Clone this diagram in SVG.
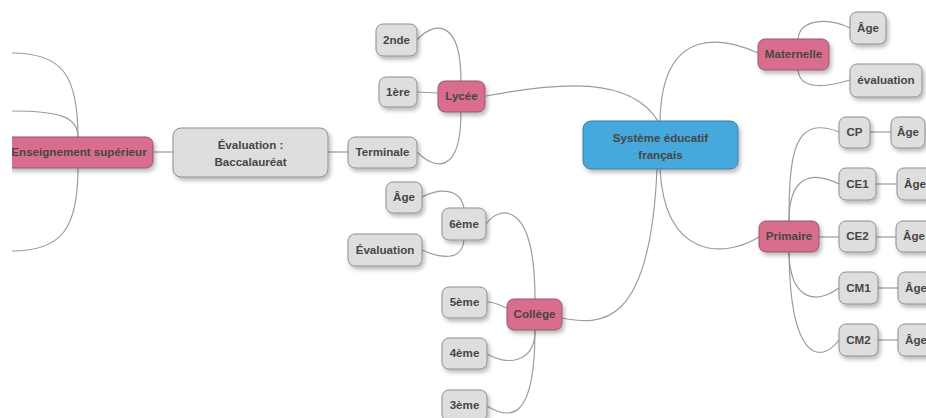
<svg xmlns="http://www.w3.org/2000/svg" width="926" height="418" viewBox="0 0 926 418">
<defs>
<clipPath id="clip"><rect x="12" y="0" width="914" height="418"/></clipPath>
<filter id="sh" x="-20%" y="-30%" width="150%" height="180%">
<feDropShadow dx="2" dy="3" stdDeviation="2.2" flood-color="#000" flood-opacity="0.28"/>
</filter>
</defs>
<style>
.c{fill:none;stroke:#9c9c9c;stroke-width:1.2}
.g rect{fill:#dedede;stroke:#8e8e8e;stroke-width:1}
.p rect{fill:#d96d8d;stroke:#8f5a6c;stroke-width:1}
.b rect{fill:#46a8db;stroke:#3b7fa8;stroke-width:1}
rect{filter:url(#sh)}
text{font-family:"Liberation Sans",Arial,Helvetica,sans-serif;font-size:11.6px;font-weight:bold;fill:#464646;text-anchor:middle}
</style>
<rect x="0" y="0" width="926" height="418" fill="#ffffff" style="filter:none"/>
<g clip-path="url(#clip)">
<g id="connectors">
<path class="c" d="M153 152 L173 152"/>
<path class="c" d="M328 152 L348 152"/>
<path class="c" d="M78 137 C78 75 62 53 12 53"/>
<path class="c" d="M78 137 C78 118 62 111 12 111"/>
<path class="c" d="M78 168 C78 228 62 251 12 251"/>
<path class="c" d="M417 40 C435 20 461 20 461 81"/>
<path class="c" d="M417 92 L438 93"/>
<path class="c" d="M461 112 C461 175 435 170 417 152"/>
<path class="c" d="M486 96 C560 82 630 76 658 121"/>
<path class="c" d="M660 121 C662 20 730 40 758 53"/>
<path class="c" d="M798 39 C800 18 830 18 850 28"/>
<path class="c" d="M798 70 C800 92 830 86 850 80"/>
<path class="c" d="M660 169 C665 260 725 258 759 237"/>
<path class="c" d="M657 169 C650 330 600 325 562 318"/>
<path class="c" d="M535 299 C535 200 500 205 486 224"/>
<path class="c" d="M487 302 C497 302 500 306 507 308"/>
<path class="c" d="M535 330 C535 365 505 365 487 354"/>
<path class="c" d="M535 330 C535 422 510 420 487 406"/>
<path class="c" d="M464 208 C460 188 440 188 422 197"/>
<path class="c" d="M464 240 C462 262 440 258 422 250"/>
<path class="c" d="M789 221 C789 150 795 115 839 132"/>
<path class="c" d="M789 221 C789 190 800 165 839 184"/>
<path class="c" d="M819 237 L839 237"/>
<path class="c" d="M789 252 C790 300 815 305 839 288"/>
<path class="c" d="M789 252 C790 360 820 365 839 340"/>
<path class="c" d="M870 132 L891 132"/>
<path class="c" d="M876 184 L897 184"/>
<path class="c" d="M876 237 L896 237"/>
<path class="c" d="M878 288 L898 288"/>
<path class="c" d="M878 340 L898 340"/>
</g>
<g id="n-central" class="b"><rect x="583" y="121" width="155" height="48" rx="8"/><text x="660.5" y="142">Système éducatif</text><text x="660.5" y="159">français</text></g>
<g id="n-sup" class="p"><rect x="4" y="137" width="149" height="31" rx="7"/><text x="79" y="156">Enseignement supérieur</text></g>
<g id="n-bac" class="g"><rect x="173" y="128" width="155" height="49" rx="8"/><text x="250.5" y="149">Évaluation :</text><text x="250.5" y="166">Baccalauréat</text></g>
<g id="n-lycee" class="p"><rect x="438" y="81" width="47" height="31" rx="7"/><text x="461.5" y="100">Lycée</text></g>
<g id="n-2nde" class="g"><rect x="376" y="24" width="41" height="32" rx="7"/><text x="396.5" y="44">2nde</text></g>
<g id="n-1ere" class="g"><rect x="379" y="77" width="38" height="30" rx="7"/><text x="398" y="96">1ère</text></g>
<g id="n-term" class="g"><rect x="348" y="137" width="69" height="31" rx="7"/><text x="382.5" y="156">Terminale</text></g>
<g id="n-age6" class="g"><rect x="386" y="182" width="36" height="31" rx="7"/><text x="404" y="201">Âge</text></g>
<g id="n-6eme" class="g"><rect x="442" y="208" width="44" height="32" rx="7"/><text x="464" y="228">6ème</text></g>
<g id="n-eval6" class="g"><rect x="348" y="234" width="74" height="32" rx="7"/><text x="385" y="254">Évaluation</text></g>
<g id="n-5eme" class="g"><rect x="442" y="287" width="45" height="31" rx="7"/><text x="464.5" y="306">5ème</text></g>
<g id="n-college" class="p"><rect x="507" y="299" width="55" height="31" rx="7"/><text x="534.5" y="318">Collège</text></g>
<g id="n-4eme" class="g"><rect x="442" y="338" width="45" height="31" rx="7"/><text x="464.5" y="357">4ème</text></g>
<g id="n-3eme" class="g"><rect x="442" y="390" width="45" height="31" rx="7"/><text x="464.5" y="409">3ème</text></g>
<g id="n-mat" class="p"><rect x="758" y="39" width="71" height="31" rx="7"/><text x="793.5" y="58">Maternelle</text></g>
<g id="n-agemat" class="g"><rect x="850" y="12" width="36" height="32" rx="7"/><text x="868" y="32">Âge</text></g>
<g id="n-evalmat" class="g"><rect x="850" y="64" width="72" height="33" rx="7"/><text x="886" y="84">évaluation</text></g>
<g id="n-prim" class="p"><rect x="759" y="221" width="60" height="31" rx="7"/><text x="789" y="240">Primaire</text></g>
<g id="n-cp" class="g"><rect x="839" y="117" width="31" height="31" rx="7"/><text x="854.5" y="136">CP</text></g>
<g id="n-agecp" class="g"><rect x="891" y="117" width="34" height="31" rx="7"/><text x="908" y="136">Âge</text></g>
<g id="n-ce1" class="g"><rect x="839" y="168" width="37" height="32" rx="7"/><text x="857.5" y="188">CE1</text></g>
<g id="n-agece1" class="g"><rect x="897" y="168" width="36" height="32" rx="7"/><text x="915" y="188">Âge</text></g>
<g id="n-ce2" class="g"><rect x="839" y="221" width="37" height="31" rx="7"/><text x="857.5" y="240">CE2</text></g>
<g id="n-agece2" class="g"><rect x="896" y="221" width="36" height="31" rx="7"/><text x="914" y="240">Âge</text></g>
<g id="n-cm1" class="g"><rect x="839" y="272" width="39" height="32" rx="7"/><text x="858.5" y="292">CM1</text></g>
<g id="n-agecm1" class="g"><rect x="898" y="272" width="36" height="32" rx="7"/><text x="916" y="292">Âge</text></g>
<g id="n-cm2" class="g"><rect x="839" y="324" width="39" height="32" rx="7"/><text x="858.5" y="344">CM2</text></g>
<g id="n-agecm2" class="g"><rect x="898" y="324" width="36" height="32" rx="7"/><text x="916" y="344">Âge</text></g>
</g>
</svg>
